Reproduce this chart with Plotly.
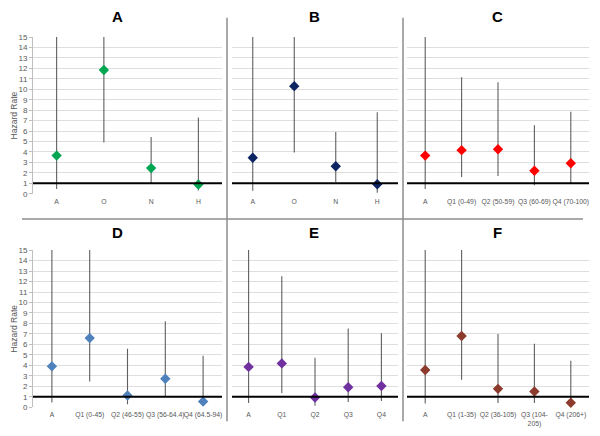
import plotly.graph_objects as go

# ---- data ----
cats_A = ["A", "O", "N", "H"]
hr_A = [3.65, 11.85, 2.45, 0.88]
lo_A = [0.45, 4.9, 1.03, 0.3]
hi_A = [15, 15, 5.42, 7.3]

cats_B = ["A", "O", "N", "H"]
hr_B = [3.45, 10.3, 2.63, 0.9]
lo_B = [0.28, 3.95, 1.13, 0.1]
hi_B = [15, 15, 5.9, 7.8]

cats_C = ["A", "Q1 (0-49)", "Q2 (50-59)", "Q3 (60-69)", "Q4 (70-100)"]
hr_C = [3.65, 4.17, 4.26, 2.2, 2.91]
lo_C = [0.45, 1.6, 1.69, 0.82, 1.03]
hi_C = [15, 11.15, 10.68, 6.55, 7.86]

cats_D = ["A", "Q1 (0-45)", "Q2 (46-55)", "Q3 (56-64.4)", "Q4 (64.5-94)"]
hr_D = [3.9, 6.6, 1.12, 2.71, 0.55]
lo_D = [0.44, 2.46, 0.28, 1.03, 0.12]
hi_D = [15, 15, 5.58, 8.2, 4.92]

cats_E = ["A", "Q1", "Q2", "Q3", "Q4"]
hr_E = [3.85, 4.18, 0.93, 1.9, 2.03]
lo_E = [0.41, 1.35, 0.13, 0.5, 0.6]
hi_E = [15, 12.5, 4.71, 7.51, 7.07]

cats_F = ["A", "Q1 (1-35)", "Q2 (36-105)", "Q3 (104-<br>205)", "Q4 (206+)"]
hr_F = [3.55, 6.8, 1.75, 1.5, 0.42]
lo_F = [0.35, 2.62, 0.41, 0.41, 0.1]
hi_F = [15, 15, 6.98, 6.05, 4.43]

titles = ["A", "B", "C", "D", "E", "F"]
colors = ["#00a651", "#0c2461", "#ff0000", "#4f81bd", "#7030a0", "#8b3a2c"]

panels = [
    (cats_A, hr_A, lo_A, hi_A),
    (cats_B, hr_B, lo_B, hi_B),
    (cats_C, hr_C, lo_C, hi_C),
    (cats_D, hr_D, lo_D, hi_D),
    (cats_E, hr_E, lo_E, hi_E),
    (cats_F, hr_F, lo_F, hi_F),
]

W, H = 600, 436
xdom_px = [(33, 222), (232, 398), (407, 589)]
ydom_px = [(33.8, 193.7), (251.3, 411.7)]

FONT = "Arial, Liberation Sans, sans-serif"
fig = go.Figure()
layout = dict(
    width=W, height=H, margin=dict(l=0, r=0, t=0, b=0),
    paper_bgcolor="white", plot_bgcolor="white", showlegend=False,
    font=dict(family=FONT, size=8, color="#595959"),
)
shapes = []
annotations = []

for i, (cats, hr, lo, hi) in enumerate(panels):
    row, col = divmod(i, 3)
    n = i + 1
    xa = "x" if n == 1 else f"x{n}"
    ya = "y" if n == 1 else f"y{n}"
    up = [h - v for h, v in zip(hi, hr)]
    dn = [v - l for v, l in zip(hr, lo)]
    fig.add_trace(go.Scatter(
        x=cats, y=hr, xaxis=xa, yaxis=ya, mode="markers",
        marker=dict(symbol="diamond", size=8, color=colors[i]),
        error_y=dict(type="data", symmetric=False, array=up, arrayminus=dn,
                     color="#5f5f5f", thickness=1.1, width=0),
        cliponaxis=False,
    ))
    x0, x1 = xdom_px[col]
    yt, yb = ydom_px[row]
    xkey = "xaxis" if n == 1 else f"xaxis{n}"
    ykey = "yaxis" if n == 1 else f"yaxis{n}"
    layout[xkey] = dict(
        domain=[x0 / W, x1 / W], anchor=ya, type="category",
        range=[-0.5, len(cats) - 0.5], tickangle=0,
        showgrid=False, showline=False, ticks="", zeroline=False,
        tickfont=dict(size=6.8, color="#595959", family=FONT),
        ticklabelstandoff=2,
        fixedrange=True,
    )
    first = col == 0
    layout[ykey] = dict(
        domain=[1 - yb / H, 1 - yt / H], anchor=xa, range=[0, 15],
        dtick=1, tick0=0, showgrid=True, gridcolor="#dedede", gridwidth=1,
        zeroline=False, showticklabels=first,
        showline=first, linecolor="#bfbfbf", linewidth=1,
        ticks="outside" if first else "", ticklen=3, tickcolor="#bfbfbf",
        tickfont=dict(size=8, color="#595959", family=FONT),
        fixedrange=True,
    )
    # reference line at hazard rate = 1
    shapes.append(dict(type="line", xref=f"{xa} domain", yref=ya,
                       x0=0, x1=1, y0=1, y1=1,
                       line=dict(color="black", width=2)))
    # panel title
    tx = [117, 314, 497][col]
    ty = [13, 233.5][row]
    annotations.append(dict(text=f"<b>{titles[i]}</b>", x=tx / W, y=1 - ty / H,
                            xref="paper", yref="paper", showarrow=False,
                            xanchor="center", yanchor="middle",
                            font=dict(size=15, color="black", family=FONT)))
    if first:
        annotations.append(dict(text="Hazard Rate", x=14 / W, y=1 - ((yt + yb) / 2) / H,
                                xref="paper", yref="paper", showarrow=False,
                                xanchor="center", yanchor="middle",
                                textangle=-90,
                                font=dict(size=8.5, color="#595959", family=FONT)))

# panel separators
sep = dict(color="#8c8c8c", width=1.5)
for sx in (227, 403):
    shapes.append(dict(type="line", xref="paper", yref="paper",
                       x0=sx / W, x1=sx / W, y0=1 - 14 / H, y1=1 - 426 / H, line=sep))
shapes.append(dict(type="line", xref="paper", yref="paper",
                   x0=22 / W, x1=583 / W, y0=1 - 219.5 / H, y1=1 - 219.5 / H, line=sep))

layout["shapes"] = shapes
layout["annotations"] = annotations
fig.update_layout(**layout)
fig.write_html("out.html", config={"displayModeBar": False},
               post_script="document.body.style.margin='0';document.body.style.padding='0';")
